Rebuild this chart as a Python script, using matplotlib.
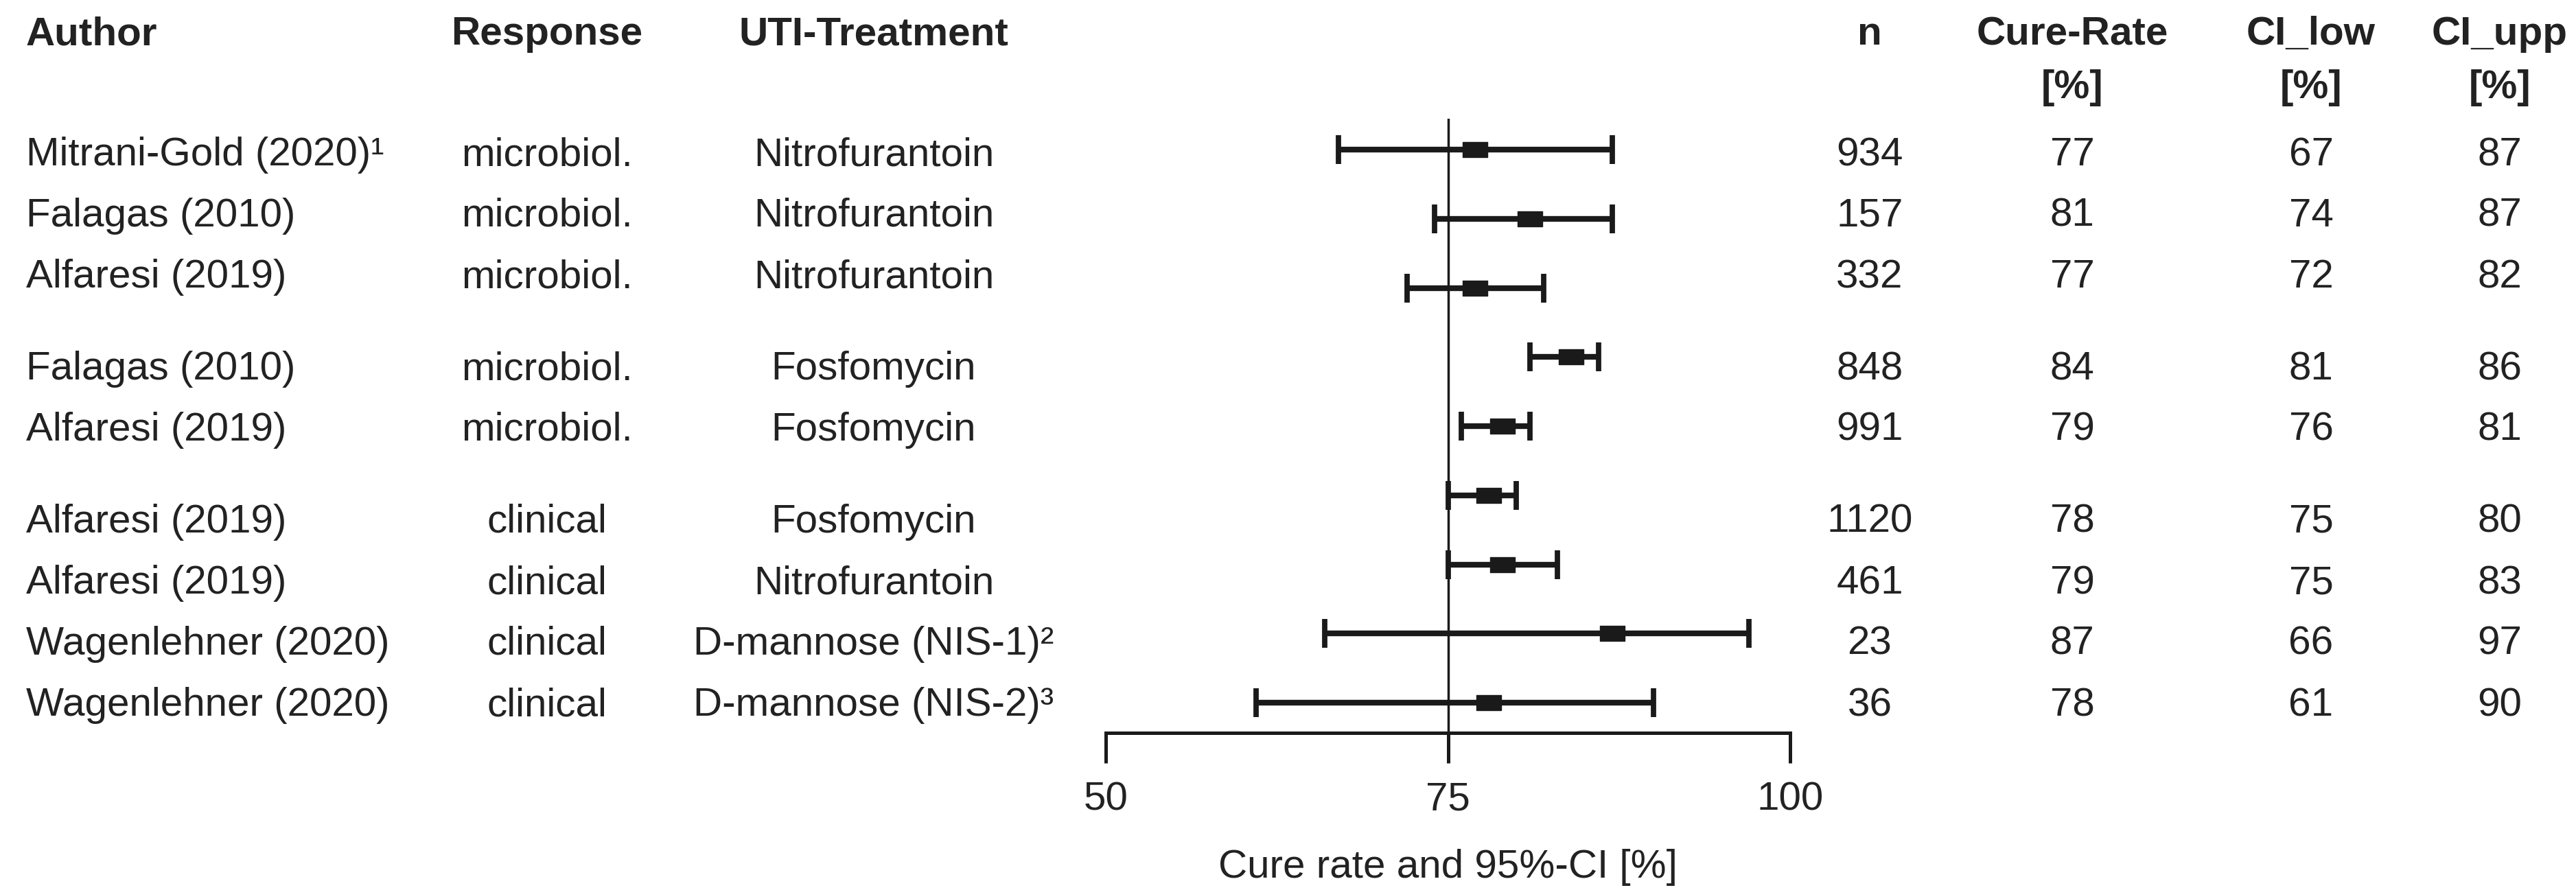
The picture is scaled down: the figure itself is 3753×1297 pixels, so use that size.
import matplotlib.pyplot as plt
from matplotlib.path import Path

plt.rcParams['font.family'] = ['Liberation Sans', 'DejaVu Sans']

# table data
authors = ['Mitrani-Gold (2020)\u00b9', 'Falagas (2010)', 'Alfaresi (2019)',
           'Falagas (2010)', 'Alfaresi (2019)',
           'Alfaresi (2019)', 'Alfaresi (2019)', 'Wagenlehner (2020)', 'Wagenlehner (2020)']
responses = ['microbiol.', 'microbiol.', 'microbiol.', 'microbiol.', 'microbiol.',
             'clinical', 'clinical', 'clinical', 'clinical']
treatments = ['Nitrofurantoin', 'Nitrofurantoin', 'Nitrofurantoin', 'Fosfomycin', 'Fosfomycin',
              'Fosfomycin', 'Nitrofurantoin', 'D-mannose (NIS-1)\u00b2', 'D-mannose (NIS-2)\u00b3']
n_patients = [934, 157, 332, 848, 991, 1120, 461, 23, 36]
cure_rate = [77, 81, 77, 84, 79, 78, 79, 87, 78]
ci_low = [67, 74, 72, 81, 76, 75, 75, 66, 61]
ci_upp = [87, 87, 82, 86, 81, 80, 83, 97, 90]
groups = [0, 0, 0, 1, 1, 2, 2, 2, 2]
x_ticks = [50, 75, 100]

W, H = 3753, 1297
fs = 42
txt_col = '#222222'
line_col = '#1a1a1a'

fig = plt.figure(figsize=(W / 100, H / 100), dpi=100)

# text table in pixel-like coordinates
tab = fig.add_axes([0, 0, 1, 1])
tab.set_xlim(0, W)
tab.set_ylim(H, 0)
tab.axis('off')

hdr_base = 65
sub_base = 143
tab.text(38, hdr_base, 'Author', ha='left', va='baseline', fontsize=fs, fontweight='bold', color=txt_col)
tab.text(797, hdr_base, 'Response', ha='center', va='baseline', fontsize=fs, fontweight='bold', color=txt_col)
tab.text(1273, hdr_base, 'UTI-Treatment', ha='center', va='baseline', fontsize=fs, fontweight='bold', color=txt_col)
tab.text(2724, hdr_base, 'n', ha='center', va='baseline', fontsize=fs, fontweight='bold', color=txt_col)
for xc, lab in [(3019, 'Cure-Rate'), (3367, 'CI_low'), (3642, 'CI_upp')]:
    tab.text(xc, hdr_base, lab, ha='center', va='baseline', fontsize=fs, fontweight='bold', color=txt_col)
    tab.text(xc, sub_base, '[%]', ha='center', va='baseline', fontsize=fs, fontweight='bold', color=txt_col)

for i in range(len(authors)):
    yb = 221 + 89 * i + 45 * groups[i] + 20
    tab.text(38, yb, authors[i], ha='left', va='baseline', fontsize=fs, color=txt_col)
    tab.text(797, yb, responses[i], ha='center', va='baseline', fontsize=fs, color=txt_col)
    tab.text(1273, yb, treatments[i], ha='center', va='baseline', fontsize=fs, color=txt_col)
    tab.text(2724, yb, str(n_patients[i]), ha='center', va='baseline', fontsize=fs, color=txt_col)
    tab.text(3019, yb, str(cure_rate[i]), ha='center', va='baseline', fontsize=fs, color=txt_col)
    tab.text(3367, yb, str(ci_low[i]), ha='center', va='baseline', fontsize=fs, color=txt_col)
    tab.text(3642, yb, str(ci_upp[i]), ha='center', va='baseline', fontsize=fs, color=txt_col)

# forest plot axes
left_px, right_px = 1611, 2608
top_px, bot_px = 173, 1068
ax = fig.add_axes([left_px / W, 1 - bot_px / H, (right_px - left_px) / W, (bot_px - top_px) / H])
ax.patch.set_alpha(0)

rows = list(range(len(cure_rate)))
err_lo = [c - l for c, l in zip(cure_rate, ci_low)]
err_hi = [u - c for c, u in zip(cure_rate, ci_upp)]

ax.axvline(75, color=line_col, lw=2.5, zorder=1)
ax.errorbar(cure_rate, rows, xerr=[err_lo, err_hi], fmt='none', ecolor=line_col,
            elinewidth=6.0, capsize=14.8, capthick=5.6, zorder=2)
rect = Path([(-1, -0.6), (1, -0.6), (1, 0.6), (-1, 0.6), (-1, -0.6)], closed=True)
ax.plot(cure_rate, rows, linestyle='none', marker=rect, markersize=26.6,
        color=line_col, zorder=3)

ax.set_xlim(50, 100)
ax.set_ylim(8 + 44 / 100.75, -45 / 100.75)
ax.set_xticks(x_ticks)
ax.set_yticks([])
for s in ['left', 'right', 'top']:
    ax.spines[s].set_visible(False)
ax.spines['bottom'].set_linewidth(3.6)
ax.spines['bottom'].set_color(line_col)
ax.tick_params(axis='x', direction='out', length=31.7, width=3.6, color=line_col,
               pad=19, labelsize=fs, labelcolor=txt_col)
ax.set_xlabel('Cure rate and 95%-CI [%]', fontsize=fs, color=txt_col, labelpad=32)

fig.savefig('out.png', dpi=100, facecolor='white')
